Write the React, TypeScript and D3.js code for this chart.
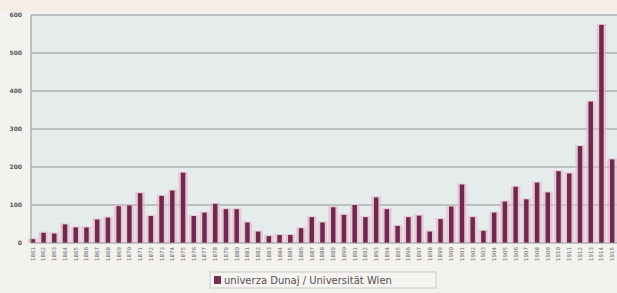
import { useRef, useEffect } from 'react';
import * as d3 from 'd3';

// Yearly counts (x labels are illegible, years estimated)
const years: string[] = d3.range(1861, 1916).map(String);
const students: number[] = [
  10, 27, 25, 49, 41, 41, 62, 67, 97, 99,
  131, 71, 124, 138, 185, 71, 80, 103, 89, 89,
  54, 30, 18, 21, 21, 39, 68, 54, 94, 74,
  100, 68, 120, 89, 45, 68, 72, 30, 63, 96,
  154, 68, 32, 80, 109, 148, 115, 159, 133, 189,
  183, 255, 372, 574, 220,
];
const yTicks: number[] = [0, 100, 200, 300, 400, 500, 600];
const legendLabel = 'univerza Dunaj / Universität Wien';

const W = 617;
const H = 293;

export default function App() {
  const ref = useRef<SVGSVGElement | null>(null);

  useEffect(() => {
    if (!ref.current) return;
    const svg = d3.select(ref.current);
    svg.selectAll('*').remove();

    const plot = { left: 31, right: 619, top: 15, bottom: 243 };

    const x = d3.scaleBand<string>()
      .domain(years)
      .range([29.5, 615.5])
      .paddingInner(0.58)
      .paddingOuter(0.1);
    const y = d3.scaleLinear().domain([0, 600]).range([plot.bottom, plot.top]);

    // page + plot background
    svg.append('rect').attr('width', W).attr('height', H).attr('fill', '#f3f2ee');
    svg.append('rect').attr('width', W).attr('height', 11).attr('fill', '#f4eee4');
    svg.append('rect')
      .attr('x', plot.left).attr('y', plot.top)
      .attr('width', plot.right - plot.left).attr('height', plot.bottom - plot.top)
      .attr('fill', '#e6ebec');

    // grid + y labels
    const yAxis = svg.append('g')
      .attr('transform', `translate(${plot.left},0)`)
      .call(d3.axisLeft(y).tickValues(yTicks).tickSize(0).tickPadding(9));
    yAxis.select('.domain').remove();
    yAxis.selectAll('text')
      .attr('fill', '#555').attr('font-size', 6).attr('font-weight', 'bold')
      .attr('font-family', 'DejaVu Sans');

    svg.append('g').selectAll('line')
      .data(yTicks.filter(t => t > 0))
      .join('line')
      .attr('x1', plot.left).attr('x2', plot.right)
      .attr('y1', d => y(d)).attr('y2', d => y(d))
      .attr('stroke', '#8f9596').attr('stroke-width', 1.2);

    // bars with a soft pink glow, as in the photo
    const bars = svg.append('g');
    bars.selectAll('rect.glow')
      .data(students)
      .join('rect')
      .attr('class', 'glow')
      .attr('x', (_, i) => x(years[i])! - 2.5)
      .attr('y', d => y(d) - 1)
      .attr('width', x.bandwidth() + 5)
      .attr('height', d => plot.bottom - y(d) + 1)
      .attr('fill', '#e9b9cc').attr('opacity', 0.7);
    bars.selectAll('rect.bar')
      .data(students)
      .join('rect')
      .attr('class', 'bar')
      .attr('x', (_, i) => x(years[i])!)
      .attr('y', d => y(d))
      .attr('width', x.bandwidth())
      .attr('height', d => plot.bottom - y(d))
      .attr('fill', '#6e2a4e');

    // axes lines
    svg.append('line')
      .attr('x1', plot.left).attr('x2', plot.left)
      .attr('y1', plot.top).attr('y2', plot.bottom)
      .attr('stroke', '#8f9596').attr('stroke-width', 1);
    svg.append('line')
      .attr('x1', plot.left).attr('x2', plot.right)
      .attr('y1', plot.bottom).attr('y2', plot.bottom)
      .attr('stroke', '#8f9596').attr('stroke-width', 1.2);

    // rotated year labels
    const xAxis = svg.append('g')
      .attr('transform', `translate(0,${plot.bottom})`)
      .call(d3.axisBottom(x).tickSize(0).tickPadding(0));
    xAxis.select('.domain').remove();
    xAxis.selectAll('text')
      .attr('transform', 'rotate(-90)')
      .attr('text-anchor', 'end')
      .attr('dy', '0.35em')
      .attr('x', -4).attr('y', 0)
      .attr('fill', '#6a6a6a').attr('font-size', 5.5)
      .attr('font-family', 'DejaVu Sans');

    // legend
    const leg = svg.append('g').attr('transform', 'translate(210,272)');
    leg.append('rect')
      .attr('width', 226).attr('height', 16)
      .attr('fill', '#f6f5f2').attr('stroke', '#c9c9c6');
    leg.append('rect')
      .attr('x', 4).attr('y', 4).attr('width', 7).attr('height', 8)
      .attr('fill', '#7a2d52');
    leg.append('text')
      .attr('x', 14).attr('y', 12)
      .attr('font-family', 'DejaVu Sans').attr('font-size', 10)
      .attr('fill', '#5a4a55')
      .text(legendLabel);
  }, []);

  return (
    <svg
      ref={ref}
      width={W}
      height={H}
      style={{ position: 'fixed', left: 0, top: 0, display: 'block' }}
    />
  );
}
